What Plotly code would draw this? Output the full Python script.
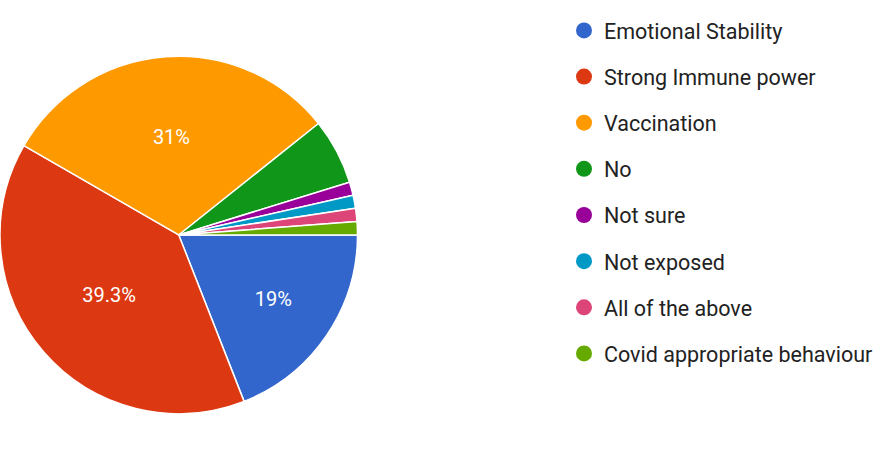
import plotly.graph_objects as go

categories = ["Emotional Stability", "Strong Immune power", "Vaccination", "No",
              "Not sure", "Not exposed", "All of the above", "Covid appropriate behaviour"]
counts = [16, 33, 26, 5, 1, 1, 1, 1]
colors = ["#3366cc", "#dc3912", "#ff9900", "#109618",
          "#990099", "#0099c6", "#dd4477", "#66aa00"]
show_label = [True, True, True, False, False, False, False, False]

fig = go.Figure()
fig.add_trace(go.Pie(
    labels=categories, values=counts, sort=False, direction="clockwise", rotation=90,
    marker=dict(colors=colors, line=dict(color="white", width=1.5)),
    texttemplate=["%{percent}" if s else "" for s in show_label],
    textposition="inside", insidetextorientation="horizontal",
    textfont=dict(family="Roboto, Arial, sans-serif", size=20, color="white"),
    showlegend=False, hoverinfo="label+percent",
    domain=dict(x=[0, 0.41], y=[0.08, 0.878]),
))

for i, (c, col) in enumerate(zip(categories, colors)):
    fig.add_trace(go.Scatter(
        x=[None], y=[None], mode="markers", name=c, legendgroup=f"g{i}",
        marker=dict(symbol="circle", size=16, color=col),
    ))

fig.update_layout(
    width=878, height=451, margin=dict(l=0, r=0, t=0, b=0),
    paper_bgcolor="white", plot_bgcolor="white",
    xaxis=dict(visible=False), yaxis=dict(visible=False),
    legend=dict(x=0.647, y=0.978, xanchor="left", yanchor="top",
                font=dict(family="Roboto, Arial, sans-serif", size=21.5, color="#222222"),
                itemsizing="trace", tracegroupgap=15.2, bgcolor="rgba(0,0,0,0)"),
)
fig.write_html("out.html")
